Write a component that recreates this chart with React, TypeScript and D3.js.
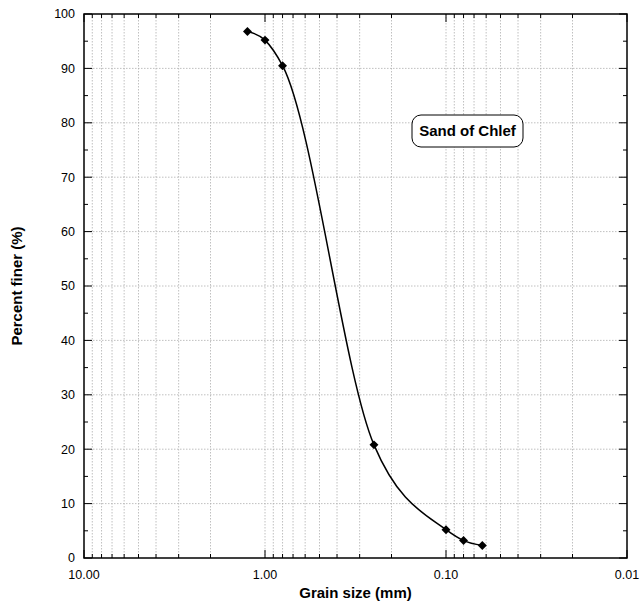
import React from 'react';
import * as d3 from 'd3';

// grain size distribution, sand of Chlef
const grainSizes = [1.25, 1.0, 0.8, 0.25, 0.1, 0.08, 0.063];
const percentFiner = [96.8, 95.2, 90.5, 20.8, 5.2, 3.2, 2.3];
const xTickLabels = ['10.00', '1.00', '0.10', '0.01'];
const xTickValues = [10, 1, 0.1, 0.01];
const yTicks = [0, 10, 20, 30, 40, 50, 60, 70, 80, 90, 100];

const W = 640;
const H = 608;
const margin = { top: 14, right: 13, bottom: 50, left: 84 };

const App = () => {
    const innerW = W - margin.left - margin.right;
    const innerH = H - margin.top - margin.bottom;

    const x = d3.scaleLog().domain([10, 0.01]).range([0, innerW]);
    const y = d3.scaleLinear().domain([0, 100]).range([innerH, 0]);

    // minor log ticks 2..9 in each decade
    const minor: number[] = [];
    [1, 0.1, 0.01].forEach(dec => {
        for (let k = 2; k <= 9; k++) minor.push(dec * k);
    });
    const yMinor = d3.range(5, 100, 10);

    const pts = grainSizes.map((g, i) => [x(g), y(percentFiner[i])] as [number, number]);
    const line = d3.line().curve(d3.curveMonotoneX)(pts) || '';
    const marker = d3.symbol(d3.symbolSquare, 40)() || '';

    const font = 'Arial, "Liberation Sans", sans-serif';
    const grid = '#b0b0b0';

    return (
        <svg width={W} height={H} style={{ position: 'absolute', left: 0, top: 0 }} fontFamily={font}>
            <rect width={W} height={H} fill="#fff" />
            <g transform={`translate(${margin.left},${margin.top})`}>
                {/* grid */}
                {[...minor, ...xTickValues.slice(1, 3)].map((v, i) => (
                    <line key={'gx' + i} x1={x(v)} x2={x(v)} y1={0} y2={innerH}
                        stroke={grid} strokeWidth={0.8} strokeDasharray="1.5,1.5" />
                ))}
                {yTicks.slice(1, -1).map(v => (
                    <line key={'gy' + v} x1={0} x2={innerW} y1={y(v)} y2={y(v)}
                        stroke={grid} strokeWidth={0.8} strokeDasharray="1.5,1.5" />
                ))}

                {/* ticks, inward on all sides */}
                {minor.map((v, i) => (
                    <g key={'mx' + i}>
                        <line x1={x(v)} x2={x(v)} y1={innerH} y2={innerH - 4} stroke="#000" />
                        <line x1={x(v)} x2={x(v)} y1={0} y2={4} stroke="#000" />
                    </g>
                ))}
                {xTickValues.map((v, i) => (
                    <g key={'Mx' + i}>
                        <line x1={x(v)} x2={x(v)} y1={innerH} y2={innerH - 8} stroke="#000" />
                        <line x1={x(v)} x2={x(v)} y1={0} y2={8} stroke="#000" />
                    </g>
                ))}
                {yTicks.map(v => (
                    <g key={'My' + v}>
                        <line x1={0} x2={8} y1={y(v)} y2={y(v)} stroke="#000" />
                        <line x1={innerW} x2={innerW - 8} y1={y(v)} y2={y(v)} stroke="#000" />
                    </g>
                ))}
                {yMinor.map(v => (
                    <g key={'my' + v}>
                        <line x1={0} x2={4} y1={y(v)} y2={y(v)} stroke="#000" />
                        <line x1={innerW} x2={innerW - 4} y1={y(v)} y2={y(v)} stroke="#000" />
                    </g>
                ))}

                <rect x={0} y={0} width={innerW} height={innerH} fill="none" stroke="#000" strokeWidth={1.5} />

                {/* tick labels */}
                {yTicks.map(v => (
                    <text key={'ly' + v} x={-9} y={y(v)} dy="0.35em" textAnchor="end" fontSize={12.5}>{v}</text>
                ))}
                {xTickValues.map((v, i) => (
                    <text key={'lx' + i} x={x(v)} y={innerH + 21} textAnchor="middle" fontSize={12.5}>{xTickLabels[i]}</text>
                ))}

                {/* curve and points */}
                <path d={line} fill="none" stroke="#000" strokeWidth={1.5} />
                {pts.map((p, i) => (
                    <path key={'pt' + i} d={marker}
                        transform={`translate(${p[0]},${p[1]}) rotate(45)`} fill="#000" />
                ))}

                {/* annotation */}
                <rect x={328} y={101} width={111} height={32} rx={9} fill="#fff" stroke="#000" strokeWidth={1} />
                <text x={383.5} y={117} dy="0.35em" textAnchor="middle" fontSize={15} fontWeight="bold">Sand of Chlef</text>

                {/* axis titles */}
                <text x={innerW / 2} y={innerH + 40} textAnchor="middle" fontSize={15} fontWeight="bold">Grain size (mm)</text>
                <text transform={`translate(${-62},${innerH / 2}) rotate(-90)`} textAnchor="middle" fontSize={15} fontWeight="bold">Percent finer (%)</text>
            </g>
        </svg>
    );
};

export default App;
